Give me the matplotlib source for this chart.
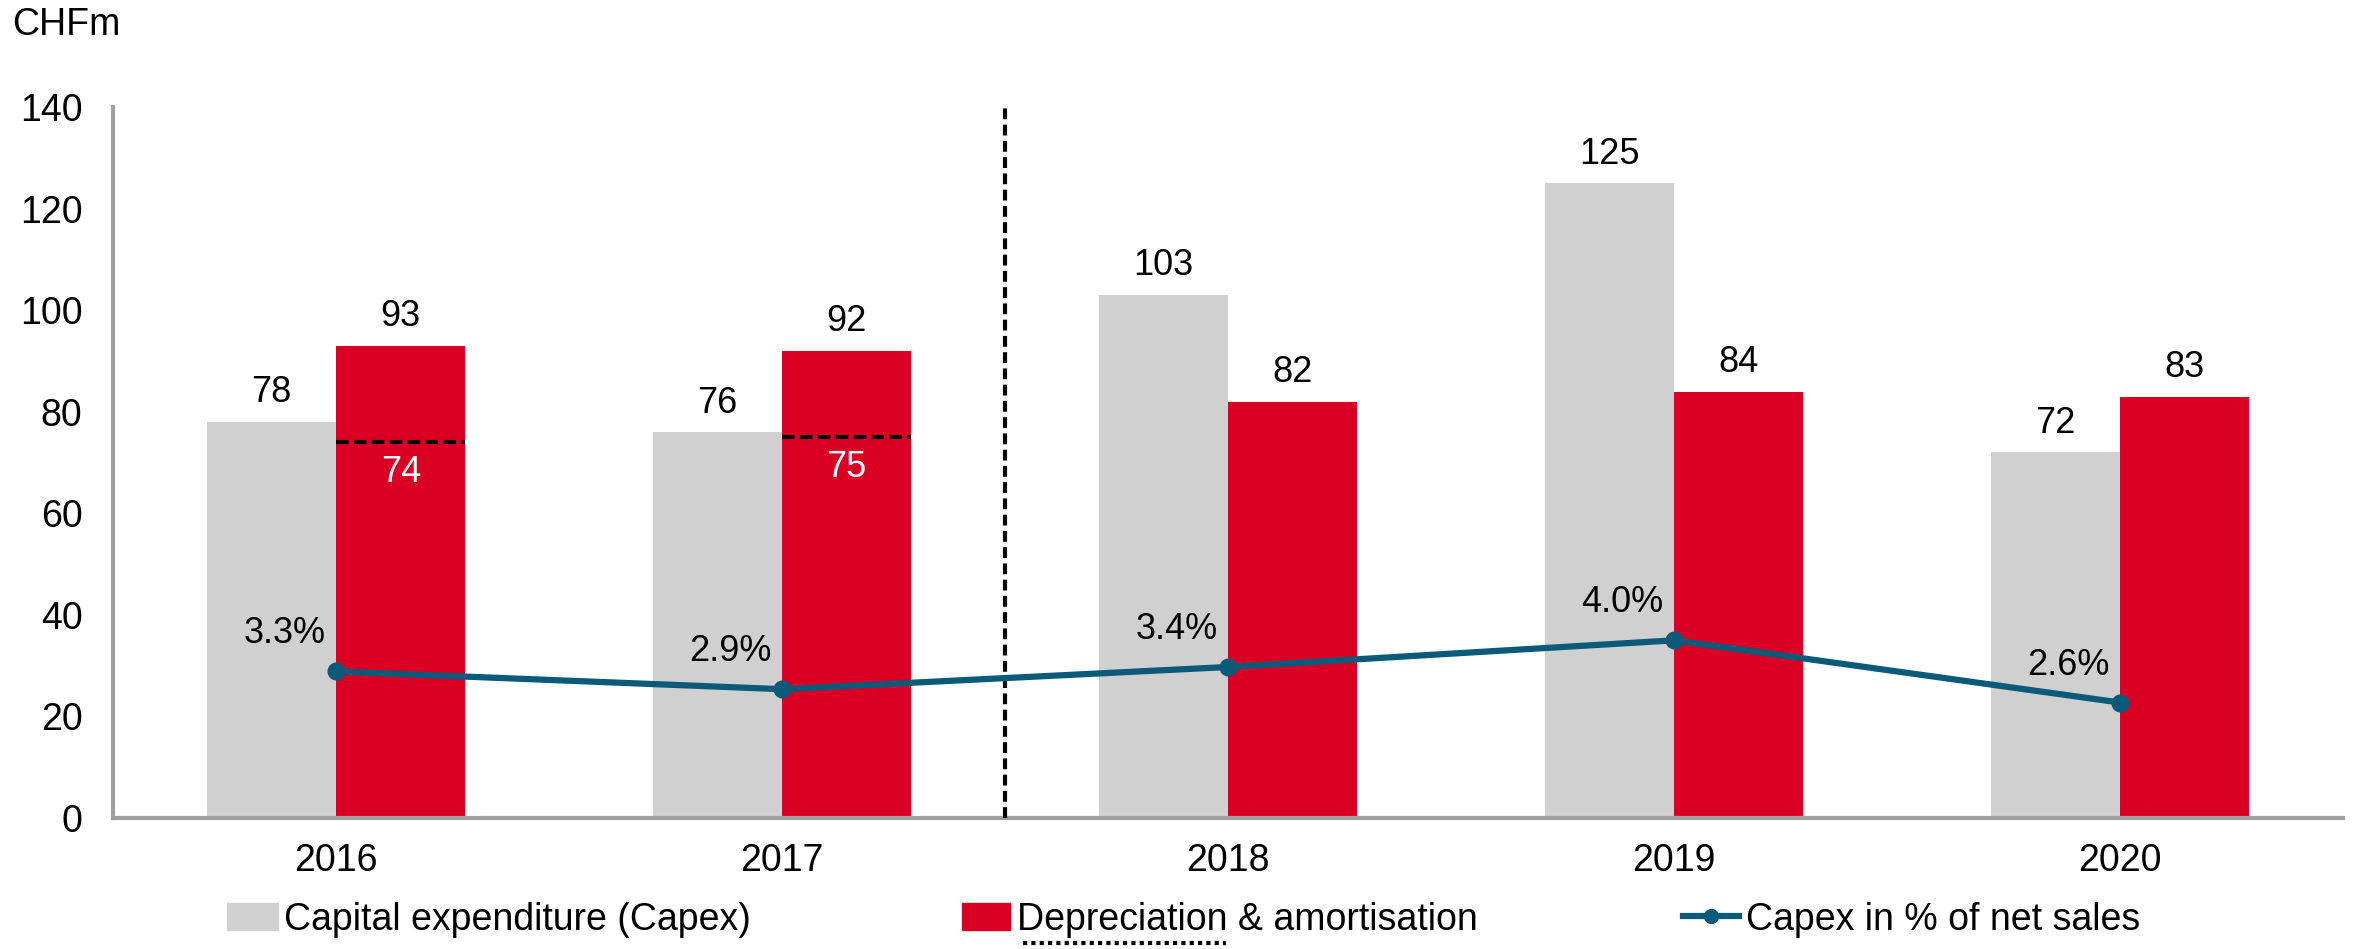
import matplotlib.pyplot as plt
from matplotlib.lines import Line2D
from matplotlib.patches import Patch
import numpy as np

plt.rcParams['font.family'] = ['Liberation Sans', 'DejaVu Sans']
plt.rcParams['font.size'] = 27

years = ['2016', '2017', '2018', '2019', '2020']
capex = [78, 76, 103, 125, 72]
dep_amort = [93, 92, 82, 84, 83]
dep_marker = [74, 75, None, None, None]   # dashed reference on the red bars
capex_pct = [3.3, 2.9, 3.4, 4.0, 2.6]
pct_labels = ['3.3%', '2.9%', '3.4%', '4.0%', '2.6%']

GREY = '#D0D0D0'
RED = '#DA0024'
BLUE = '#0B5A7A'
AXIS = '#A0A0A0'

fig = plt.figure(figsize=(23.57, 9.49), dpi=100)
ax = fig.add_axes([0.048, 0.138, 0.946, 0.749])

x = np.arange(len(years))
w = 0.29

ax.bar(x - w / 2, capex, w, color=GREY, zorder=2)
ax.bar(x + w / 2, dep_amort, w, color=RED, zorder=2)

for i in range(len(years)):
    ax.annotate(str(capex[i]), (x[i] - w / 2, capex[i]), xytext=(0, 21),
                textcoords='offset points', ha='center', va='center', fontsize=26)
    ax.annotate(str(dep_amort[i]), (x[i] + w / 2, dep_amort[i]), xytext=(0, 21),
                textcoords='offset points', ha='center', va='center', fontsize=26)
    if dep_marker[i] is not None:
        ax.plot([x[i], x[i] + w], [dep_marker[i]] * 2, color='black', lw=3,
                dashes=(3, 1.3), zorder=3)
        ax.annotate(str(dep_marker[i]), (x[i] + w / 2, dep_marker[i]), xytext=(0, -22),
                    textcoords='offset points', ha='center', va='center',
                    fontsize=26, color='white')

# separator between 2017 and 2018
ax.plot([1.5, 1.5], [0, 140], color='black', lw=3, dashes=(2.6, 1.3), zorder=3)

ax.set_xlim(-0.5, 4.5)
ax.set_ylim(0, 140)
ax.set_yticks(range(0, 141, 20))
ax.set_xticks(x)
ax.set_xticklabels(years)
ax.tick_params(axis='both', length=0, labelsize=27)
ax.tick_params(axis='x', pad=18)
ax.tick_params(axis='y', pad=22)
for s in ['top', 'right']:
    ax.spines[s].set_visible(False)
for s in ['left', 'bottom']:
    ax.spines[s].set_color(AXIS)
    ax.spines[s].set_linewidth(3)

ax2 = ax.twinx()
ax2.set_ylim(0, 16)
ax2.axis('off')
ax2.plot(x, capex_pct, color=BLUE, lw=4.5, marker='o', markersize=12, zorder=4)
for i in range(len(years)):
    ax2.annotate(pct_labels[i], (x[i], capex_pct[i]), xytext=(-37, 27),
                 textcoords='offset points', ha='center', va='center', fontsize=26)

fig.text(0.005, 0.974, 'CHFm', fontsize=27, ha='left', va='center')

# legend, three evenly spaced entries
leg_kw = dict(loc='center left', frameon=False, fontsize=27, borderpad=0,
              borderaxespad=0, handletextpad=0.17, handleheight=0.75)
l1 = fig.legend([Patch(color=GREY)], ['Capital expenditure (Capex)'],
                bbox_to_anchor=(0.0965, 0.031), handlelength=1.35, **leg_kw)
l2 = fig.legend([Patch(color=RED)], ['Depreciation & amortisation'],
                bbox_to_anchor=(0.408, 0.031), handlelength=1.3, **leg_kw)
l3 = fig.legend([Line2D([], [], color=BLUE, lw=4.5, marker='o', markersize=10)],
                ['Capex in % of net sales'],
                bbox_to_anchor=(0.714, 0.031), handlelength=1.5, **leg_kw)
fig.add_artist(Line2D([0.434, 0.52], [0.006, 0.006], transform=fig.transFigure,
                      color='black', lw=3, linestyle=(0, (1, 1))))

fig.savefig('out.png', dpi=100)
